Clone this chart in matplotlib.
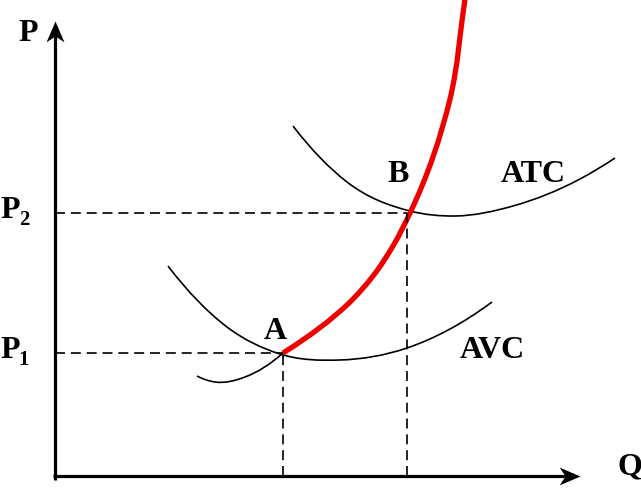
import matplotlib
matplotlib.use("Agg")
import matplotlib.pyplot as plt
from matplotlib.path import Path
from matplotlib.patches import PathPatch
import numpy as np

# Data (Q, P) in chart units; origin at axes intersection
atc_q = [238, 292, 355, 400, 458, 525, 560]
atc_p = [350, 294, 265, 260, 270, 297, 318]
avc_q = [113, 172, 225, 285, 352, 437]
avc_p = [210, 149, 122, 116, 128, 174]
mc_low_q = [142, 160, 190, 228]
mc_low_p = [100, 94, 99, 123]
mc_q = [228, 294, 318, 338, 355, 395, 410, 412]
mc_p = [123, 173, 200, 230, 263, 377, 477, 490]
p_levels = [123, 263]
q_levels = [228, 352]
p_labels = ["1", "2"]
q_axis_end = 525
p_axis_end = 455


def smooth_path(xs, ys, swap=False):
    """Cubic Hermite through the points (ys as a function of xs), drawn as Bezier."""
    x = np.asarray(xs, float)
    y = np.asarray(ys, float)
    h = np.diff(x)
    s = np.diff(y) / h
    n = len(x)
    d = np.empty(n)
    for i in range(1, n - 1):
        d[i] = (h[i - 1] * s[i] + h[i] * s[i - 1]) / (h[i - 1] + h[i])
    if n > 2:
        d[0] = ((2 * h[0] + h[1]) * s[0] - h[0] * s[1]) / (h[0] + h[1])
        d[-1] = ((2 * h[-1] + h[-2]) * s[-1] - h[-1] * s[-2]) / (h[-1] + h[-2])
    else:
        d[:] = s[0]
    verts = [(x[0], y[0])]
    codes = [Path.MOVETO]
    for i in range(n - 1):
        verts += [(x[i] + h[i] / 3, y[i] + d[i] * h[i] / 3),
                  (x[i + 1] - h[i] / 3, y[i + 1] - d[i + 1] * h[i] / 3),
                  (x[i + 1], y[i + 1])]
        codes += [Path.CURVE4] * 3
    verts = np.array(verts)
    if swap:
        verts = verts[:, ::-1]
    return Path(verts, codes)


fig = plt.figure(figsize=(6.41, 4.89), dpi=100)
ax = fig.add_axes([0, 0, 1, 1])
ax.set_xlim(-55, 586)
ax.set_ylim(-12, 477)
ax.axis("off")

font = dict(family="Liberation Serif", weight="bold", color="black")

# axes lines
ax.plot([0, 0], [-4, p_axis_end - 12], color="black", lw=2.3, solid_capstyle="butt")
ax.plot([-2, q_axis_end - 12], [0, 0], color="black", lw=2.3, solid_capstyle="butt")
# stealth arrowheads
head_right = Path([(0, 0), (-21, 9), (-15, 0), (-21, -9), (0, 0)],
                  [Path.MOVETO, Path.LINETO, Path.LINETO, Path.LINETO, Path.CLOSEPOLY])
head_up = Path([(0, 0), (9, -21), (0, -15), (-9, -21), (0, 0)],
               [Path.MOVETO, Path.LINETO, Path.LINETO, Path.LINETO, Path.CLOSEPOLY])
ax.plot([q_axis_end], [0], marker=head_right, markersize=30, color="black", mew=0)
ax.plot([0], [p_axis_end], marker=head_up, markersize=30, color="black", mew=0)

# dashed guides
for p, q in zip(p_levels, q_levels):
    ax.plot([0, q], [p, p], color="black", lw=1.2, dashes=(6, 3.5))
    ax.plot([q, q], [0, p], color="black", lw=1.2, dashes=(6, 3.5))

# curves
for xs, ys in [(atc_q, atc_p), (avc_q, avc_p), (mc_low_q, mc_low_p)]:
    ax.add_patch(PathPatch(smooth_path(xs, ys), fill=False, edgecolor="black", lw=1.2))
ax.add_patch(PathPatch(smooth_path(mc_p, mc_q, swap=True), fill=False, edgecolor="#ee0000",
                       lw=3.8, capstyle="butt"))

# labels
ax.text(-27, 443, "P", fontsize=23, ha="center", va="center", **font)
ax.text(575, 10, "Q", fontsize=23, ha="center", va="center", **font)
for p, lab in zip(p_levels, p_labels):
    ax.text(-45, p + 3, "P", fontsize=23, ha="center", va="center", **font)
    ax.text(-31, p - 6, lab, fontsize=15, ha="center", va="center", **font)
ax.text(220, 145, "A", fontsize=23, ha="center", va="center", **font)
ax.text(343, 302, "B", fontsize=23, ha="center", va="center", **font)
ax.text(478, 302, "ATC", fontsize=23, ha="center", va="center", **font)
ax.text(437, 126, "AVC", fontsize=23, ha="center", va="center", **font)

fig.savefig("out.png", dpi=100)
